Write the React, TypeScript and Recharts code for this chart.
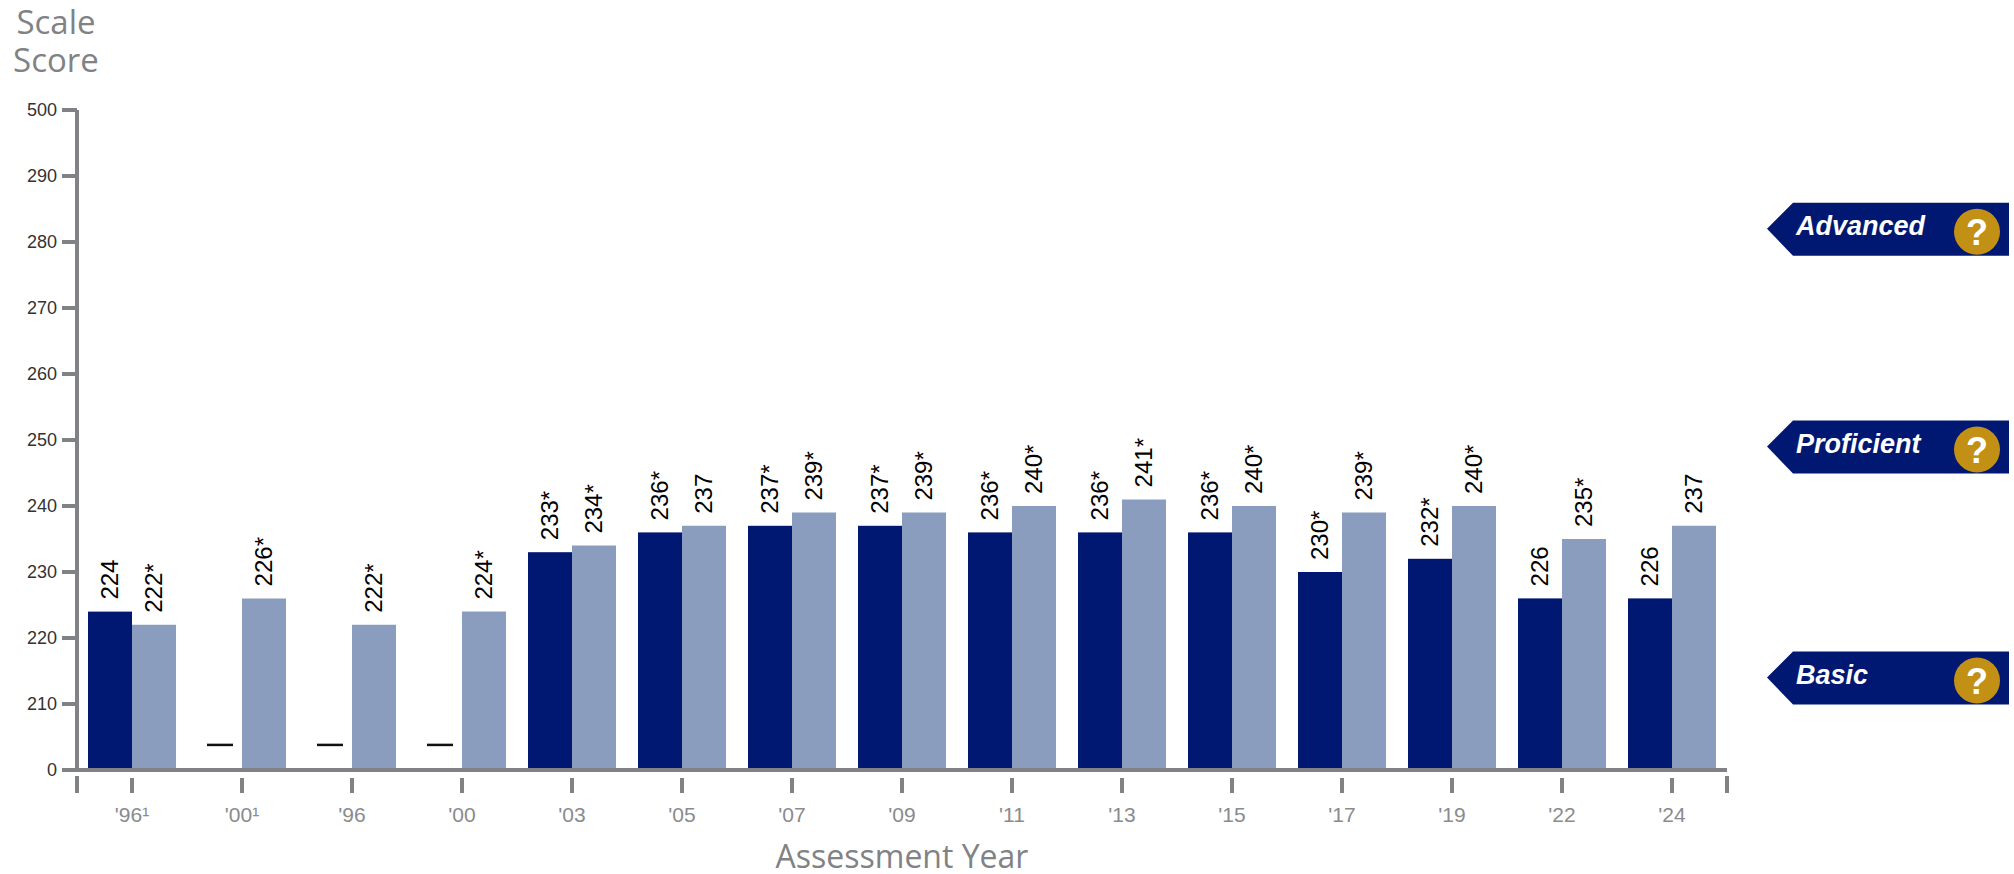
import React from "react";
import {
  BarChart,
  Bar,
  XAxis,
  YAxis,
  LabelList,
  ReferenceLine,
} from "recharts";

const years = ["'96¹", "'00¹", "'96", "'00", "'03", "'05", "'07", "'09", "'11", "'13", "'15", "'17", "'19", "'22", "'24"];
const nationalPublicScores = [224, null, null, null, 233, 236, 237, 237, 236, 236, 236, 230, 232, 226, 226];
const nationalPublicLabels = ["224", "", "", "", "233*", "236*", "237*", "237*", "236*", "236*", "236*", "230*", "232*", "226", "226"];
const nationScores = [222, 226, 222, 224, 234, 237, 239, 239, 240, 241, 240, 239, 240, 235, 237];
const nationLabels = ["222*", "226*", "222*", "224*", "234*", "237", "239*", "239*", "240*", "241*", "240*", "239*", "240*", "235*", "237"];

const yTicks = [200, 210, 220, 230, 240, 250, 260, 270, 280, 290, 300];
const achievementLevels = [
  { name: "Advanced", score: 282 },
  { name: "Proficient", score: 249 },
  { name: "Basic", score: 214 },
];

// the axis is broken: its bottom and top ticks stand for 0 and 500
const axisFloor = 200;
const axisTop = 300;
const noDataLevel = 203.8;

const rows = years.map((year, i) => ({
  year,
  dark: nationalPublicScores[i],
  darkLabel: nationalPublicLabels[i],
  light: nationScores[i],
  lightLabel: nationLabels[i],
}));

const NAVY = "#001871";
const STEEL = "#8a9dbf";
const AXIS_GREY = "#808285";
const WIDTH = 2014;
const HEIGHT = 874;
const SANS = '"Liberation Sans", Arial, sans-serif';
const TITLE_FONT = '"Open Sans", sans-serif';
const BAND = 110;

function formatScore(v: number) {
  if (v === axisFloor) return "0";
  if (v === axisTop) return "500";
  return String(v);
}

function YearTick({ x, y, payload, index }: any) {
  return (
    <g>
      <line x1={x} x2={x} y1={y} y2={y + 15} stroke={AXIS_GREY} strokeWidth={4} />
      {index === 0 && <line x1={x - BAND / 2} x2={x - BAND / 2} y1={y - 2} y2={y + 15} stroke={AXIS_GREY} strokeWidth={4} />}
      {index === years.length - 1 && <line x1={x + BAND / 2} x2={x + BAND / 2} y1={y - 2} y2={y + 15} stroke={AXIS_GREY} strokeWidth={4} />}
      <text x={x} y={y + 44} textAnchor="middle" fontFamily={SANS} fontSize={21} fill="#898b8e">
        {payload.value}
      </text>
    </g>
  );
}

// Years without a score get a short dash instead of a bar
function DarkBar({ x, y, width, height, payload }: any) {
  if (payload.dark == null) {
    return <line x1={x + width / 2 - 13} x2={x + width / 2 + 13} y1={y} y2={y} stroke="#111" strokeWidth={2.5} />;
  }
  return <rect x={x} y={y} width={width} height={height} fill={NAVY} />;
}

function ValueLabel({ x, y, width, value }: any) {
  if (!value) return null;
  const cx = x + width / 2 + 8;
  const cy = y - 12;
  return (
    <text x={cx} y={cy} transform={`rotate(-90 ${cx} ${cy})`} fontFamily={SANS} fontSize={24} fill="#000">
      {value}
    </text>
  );
}

function LevelBadge({ viewBox, name }: any) {
  const right = viewBox.x + viewBox.width;
  const cy = viewBox.y;
  const tip = right + 40;
  const left = right + 66;
  const end = right + 282;
  return (
    <g>
      <polygon
        points={`${tip},${cy} ${left},${cy - 26} ${end},${cy - 26} ${end},${cy + 27} ${left},${cy + 27}`}
        fill={NAVY}
      />
      <text x={left + 3} y={cy + 6} fontFamily={SANS} fontSize={27} fontWeight={700} fontStyle="italic" fill="#fff">
        {name}
      </text>
      <circle cx={right + 250} cy={cy + 3} r={23} fill="#c29014" />
      <text x={right + 250} y={cy + 16} textAnchor="middle" fontFamily={SANS} fontSize={36} fontWeight={700} fill="#fff">
        ?
      </text>
    </g>
  );
}

function ScaleScoreTitle() {
  return (
    <text fontFamily={TITLE_FONT} fontSize={33} fill={AXIS_GREY} textAnchor="middle">
      <tspan x={56} y={34}>Scale</tspan>
      <tspan x={56} y={72}>Score</tspan>
    </text>
  );
}

export default function App() {
  return (
    <div style={{ position: "absolute", left: 0, top: 0, width: WIDTH, height: HEIGHT, background: "#fff" }}>
      <BarChart
        width={WIDTH}
        height={HEIGHT}
        data={rows}
        margin={{ top: 110, right: 287, bottom: 0, left: 0 }}
        barSize={44}
        barGap={0}
      >
        <XAxis
          dataKey="year"
          height={104}
          interval={0}
          axisLine={{ stroke: AXIS_GREY, strokeWidth: 4 }}
          tickLine={false}
          tick={<YearTick />}
          label={{
            value: "Assessment Year",
            position: "insideBottom",
            offset: 6,
            fontFamily: TITLE_FONT,
            fontSize: 32,
            fill: AXIS_GREY,
          }}
        />
        <YAxis
          width={77}
          domain={[axisFloor, axisTop]}
          ticks={yTicks}
          interval={0}
          tickSize={15}
          tickMargin={5}
          tickFormatter={formatScore}
          axisLine={{ stroke: AXIS_GREY, strokeWidth: 4 }}
          tickLine={{ stroke: AXIS_GREY, strokeWidth: 4 }}
          tick={{ fontFamily: SANS, fontSize: 18, fill: "#333" }}
          label={<ScaleScoreTitle />}
        />
        <Bar dataKey={(d: any) => d.dark ?? noDataLevel} shape={<DarkBar />} isAnimationActive={false}>
          <LabelList dataKey="darkLabel" content={<ValueLabel />} />
        </Bar>
        <Bar dataKey="light" fill={STEEL} isAnimationActive={false}>
          <LabelList dataKey="lightLabel" content={<ValueLabel />} />
        </Bar>
        {achievementLevels.map((level) => (
          <ReferenceLine
            key={level.name}
            y={level.score}
            stroke="none"
            label={<LevelBadge name={level.name} />}
          />
        ))}
      </BarChart>
    </div>
  );
}
